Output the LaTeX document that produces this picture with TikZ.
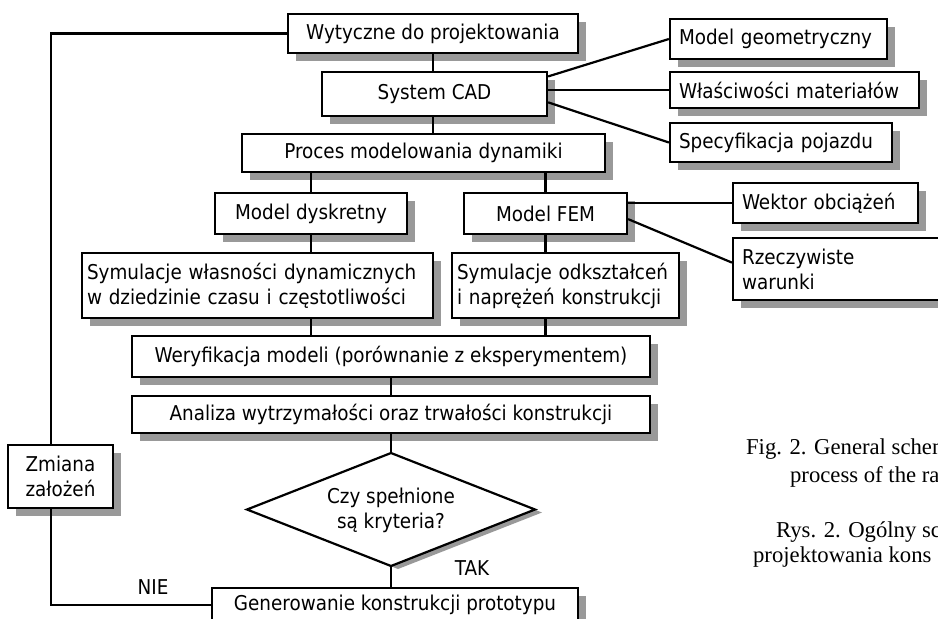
\documentclass[tikz,border=0pt]{standalone}
\usepackage{fontspec}
\newfontfamily\tah{DejaVu Sans Condensed}
\newfontfamily\tnr{Liberation Serif}
\usetikzlibrary{shadows,calc}
\definecolor{shadowgray}{HTML}{999999}
\begin{document}
\begin{tikzpicture}[x=1pt,y=-1pt,line width=2.2pt,
  txt/.style={font=\tah\fontsize{20.4}{25}\selectfont, inner sep=0pt},
  box/.style={txt, draw, fill=white, line width=2.2pt, align=center,
    drop shadow={shadow xshift=8pt, shadow yshift=-8pt, fill=shadowgray, opacity=1}},
  lbox/.style={box, align=left, inner xsep=9pt},
  captxt/.style={font=\tnr\fontsize{22.7}{28}\selectfont, inner sep=0pt, anchor=base west}]
\path[use as bounding box, clip] (0,0) rectangle (938,619);
\fill[white] (0,0) rectangle (938,619);
% boxes
\node[box, minimum width=290pt, minimum height=39pt] (wyt) at (433,33.5) {Wytyczne do projektowania};
\node[box, minimum width=225pt, minimum height=44pt] (cad) at (434.5,94) {System CAD};
\node[box, minimum width=363pt, minimum height=38pt] (proc) at (423.5,153) {Proces modelowania dynamiki};
\node[lbox, minimum width=217pt, minimum height=40pt, text width=199pt] (geo) at (778.5,39) {Model geometryczny};
\node[lbox, minimum width=249pt, minimum height=36pt, text width=231pt] (wlas) at (794.5,90) {Właściwości materiałów};
\node[lbox, minimum width=222pt, minimum height=39pt, text width=204pt] (spec) at (781,142.5) {Specyfikacja pojazdu};
\node[box, minimum width=192pt, minimum height=41pt] (dys) at (311,213.5) {Model dyskretny};
\node[box, minimum width=163pt, minimum height=41pt] (fem) at (545.5,213.5) {Model FEM};
\node[lbox, minimum width=185pt, minimum height=40pt, text width=167pt] (wek) at (825.5,203) {Wektor obciążeń};
\node[lbox, minimum width=227pt, minimum height=62pt, text width=209pt] (rze) at (846.5,269) {Rzeczywiste\\warunki};
\node[lbox, inner xsep=5pt, minimum width=351pt, minimum height=65pt, text width=341pt] (syml) at (257.5,285.5) {Symulacje własności dynamicznych\\w dziedzinie czasu i częstotliwości};
\node[lbox, inner xsep=5pt, minimum width=227pt, minimum height=65pt, text width=217pt] (symr) at (565.5,285.5) {Symulacje odkształceń\\i naprężeń konstrukcji};
\node[box, minimum width=518pt, minimum height=41pt] (wer) at (391,356.5) {Weryfikacja modeli (porównanie z eksperymentem)};
\node[box, minimum width=518pt, minimum height=37pt] (ana) at (391,414.5) {Analiza wytrzymałości oraz trwałości konstrukcji};
\node[box, minimum width=366pt, minimum height=34pt] (gen) at (395,605) {Generowanie konstrukcji prototypu};
\node[box, minimum width=105pt, minimum height=63pt] (zmi) at (60.5,476.5) {Zmiana\\założeń};
% decision diamond
\coordinate (dT) at (391,453);
\coordinate (dR) at (535,509.5);
\coordinate (dB) at (391,566);
\coordinate (dL) at (247,509.5);
\fill[shadowgray] ([shift={(7,3)}]dT) -- ([shift={(7,3)}]dR) -- ([shift={(7,3)}]dB) -- ([shift={(7,3)}]dL) -- cycle;
\draw[fill=white] (dT) -- (dR) -- (dB) -- (dL) -- cycle;
\node[txt, align=center] (dia) at (391,510) {Czy spełnione\\są kryteria?};
% connectors
\draw (wyt.south) -- (wyt.south |- cad.north);
\draw (wyt.south |- cad.south) -- (wyt.south |- proc.north);
\draw (dys.north |- proc.south) -- (dys.north);
\draw (fem.north |- proc.south) -- (fem.north);
\draw (dys.south) -- (dys.south |- syml.north);
\draw (fem.south) -- (fem.south |- symr.north);
\draw (dys.south |- syml.south) -- (dys.south |- wer.north);
\draw (fem.south |- symr.south) -- (fem.south |- wer.north);
\draw (wer.south) -- (ana.north);
\draw (ana.south) -- (dT);
\draw (dB) -- (dB |- gen.north);
\draw ($(cad.north east)!0.12!(cad.south east)$) -- (geo.west);
\draw (cad.east |- wlas.west) -- (wlas.west);
\draw ($(cad.north east)!0.68!(cad.south east)$) -- (spec.west);
\draw (fem.east |- wek.west) -- (wek.west);
\draw ($(fem.north east)!0.63!(fem.south east)$) -- ($(rze.north west)!0.4!(rze.south west)$);
\coordinate (fbx) at (51,0);
\draw (wyt.west) -| (fbx |- zmi.north);
\draw (fbx |- zmi.south) |- (gen.west);
% labels
\node[txt] (nie) at (153,587) {NIE};
\node[txt] (tak) at (472,568) {TAK};
% caption
\node[captxt] (c1) at (745,454) {Fig. 2. General schem};
\node[captxt] (c2) at (789,482) {process of the ra};
\node[captxt] (c3) at (775,537) {Rys. 2. Ogólny sc};
\node[captxt] (c4) at (752,562) {projektowania kons};
\end{tikzpicture}
\end{document}
